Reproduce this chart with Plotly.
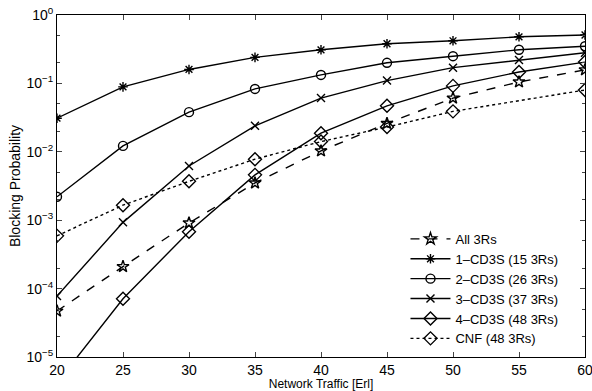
import plotly.graph_objects as go

traffic = [20, 25, 30, 35, 40, 45, 50, 55, 60]
traffic_cnf = [20, 25, 30, 35, 40, 45, 50, 60]

all_3rs = [4.7e-5, 2.1e-4, 9.1e-4, 0.0035, 0.0103, 0.026, 0.061, 0.105, 0.158]
cd3s_1 = [0.031, 0.089, 0.16, 0.24, 0.31, 0.38, 0.42, 0.48, 0.51]
cd3s_2 = [0.0022, 0.0122, 0.038, 0.083, 0.133, 0.20, 0.25, 0.31, 0.35]
cd3s_3 = [7.8e-5, 9.3e-4, 0.0062, 0.024, 0.061, 0.11, 0.17, 0.22, 0.28]
cd3s_4 = [4.2e-6, 7.1e-5, 6.8e-4, 0.0046, 0.0187, 0.047, 0.092, 0.147, 0.205]
cnf = [5.9e-4, 0.00166, 0.0037, 0.0078, 0.0141, 0.023, 0.039, 0.080]

names = ["All 3Rs", "1–CD3S (15 3Rs)", "2–CD3S (26 3Rs)", "3–CD3S (37 3Rs)",
         "4–CD3S (48 3Rs)", "CNF (48 3Rs)"]
xtickvals = [20, 25, 30, 35, 40, 45, 50, 55, 60]
ytickvals = [1e-5, 1e-4, 1e-3, 1e-2, 1e-1, 1]
yticktext = ["10<sup>−5</sup>", "10<sup>−4</sup>", "10<sup>−3</sup>",
             "10<sup>−2</sup>", "10<sup>−1</sup>", "10<sup>0</sup>"]

series = [
    (traffic, all_3rs, "star-open", "dash", 9),
    (traffic, cd3s_1, "asterisk-open", "solid", 8),
    (traffic, cd3s_2, "circle-open", "solid", 9),
    (traffic, cd3s_3, "x-thin-open", "solid", 8),
    (traffic, cd3s_4, "diamond-open", "solid", 10),
    (traffic_cnf, cnf, "diamond-open", "dot", 10),
]

fig = go.Figure()
for (x, y, sym, dash, size), name in zip(series, names):
    fig.add_trace(go.Scatter(
        x=x, y=y, name=name, mode="lines+markers",
        line=dict(color="black", width=1.4, dash=dash),
        marker=dict(symbol=sym, size=size, color="black",
                    line=dict(color="black", width=1.4)),
    ))

fig.update_layout(
    width=592, height=391,
    margin=dict(l=57, r=7, t=15, b=34),
    paper_bgcolor="white", plot_bgcolor="white",
    font=dict(family="Liberation Sans, Arial, sans-serif", size=13, color="black"),
    showlegend=True,
    legend=dict(x=0.66, y=0.009, xanchor="left", yanchor="bottom",
                bgcolor="rgba(255,255,255,0)", font=dict(size=13),
                itemwidth=40),
)
fig.update_xaxes(
    range=[20, 60], tickvals=xtickvals, automargin=False,
    ticklabeloverflow="allow",
    ticks="inside", ticklen=5, showline=True, linecolor="black", linewidth=1,
    mirror="ticks", showgrid=False, zeroline=False,
    title=dict(text="Network Traffic [Erl]", standoff=2, font=dict(size=12)),
    tickfont=dict(size=14),
)
fig.update_yaxes(
    type="log", range=[-5, 0], tickvals=ytickvals, ticktext=yticktext,
    automargin=False, ticklabeloverflow="allow",
    ticks="inside", ticklen=5, showline=True, linecolor="black", linewidth=1,
    mirror="ticks", showgrid=False, zeroline=False,
    minor=dict(ticks="inside", ticklen=3, showgrid=False),
    title=dict(text="Blocking Probability", standoff=2, font=dict(size=14)),
    tickfont=dict(size=14),
)
fig.write_html("out.html")
